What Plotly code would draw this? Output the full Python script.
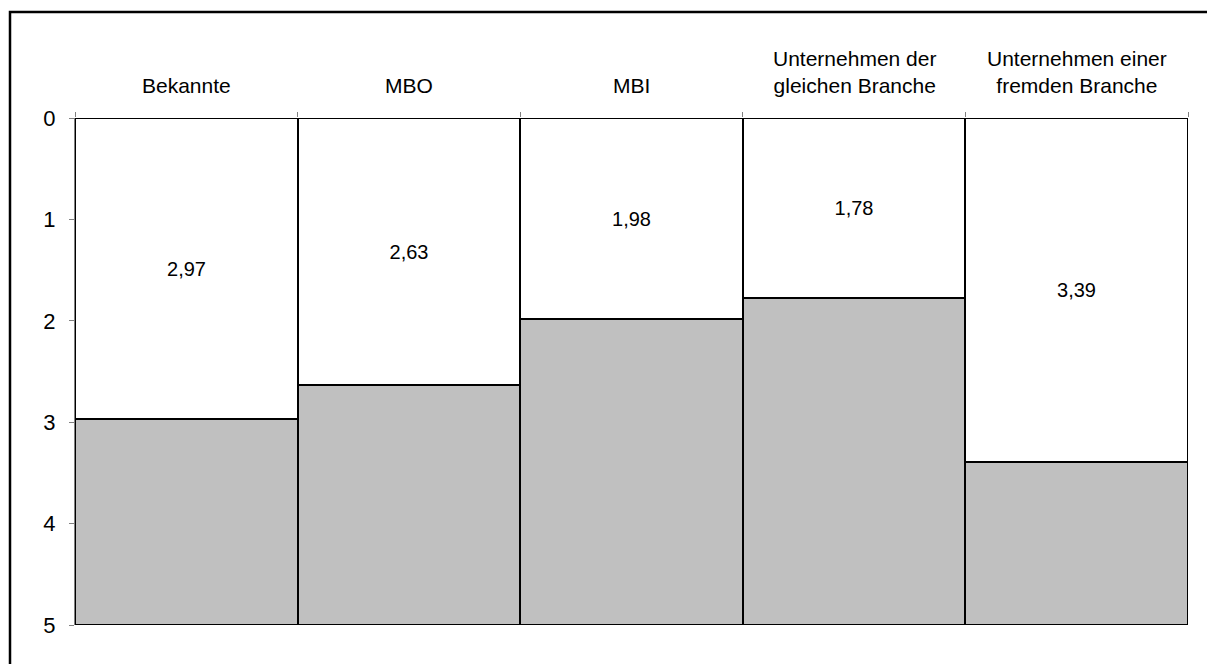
import plotly.graph_objects as go

categories = ["Bekannte", "MBO", "MBI", "Unternehmen der<br>gleichen Branche", "Unternehmen einer<br>fremden Branche"]
values = [2.97, 2.63, 1.98, 1.78, 3.39]
y_max = 5
y_ticks = [0, 1, 2, 3, 4, 5]

xs = list(range(len(categories)))
labels = [f"{v:.2f}".replace(".", ",") for v in values]

ML, MR, MT, MB = 67, 35, 110, 47
PW = 1215 - ML - MR
PH = 664 - MT - MB

fig = go.Figure()
fig.add_trace(go.Bar(
    x=xs, y=values, base=[0] * len(values), width=1,
    marker=dict(color="white", line=dict(color="black", width=2)),
    text=labels, textposition="inside", insidetextanchor="middle", textangle=0,
    textfont=dict(family="Liberation Sans, Arial", size=20, color="black"),
    showlegend=False, hoverinfo="skip",
))
fig.add_trace(go.Bar(
    x=xs, y=[y_max - v for v in values], base=values, width=1,
    marker=dict(color="#C0C0C0", line=dict(color="black", width=2)),
    showlegend=False, hoverinfo="skip",
))

for i, c in enumerate(categories):
    fig.add_annotation(x=i, y=0, xref="x", yref="y", text=c, showarrow=False,
                       yanchor="bottom", yshift=19,
                       font=dict(family="Liberation Sans, Arial", size=21, color="black"))

# outer frame
fig.add_shape(type="rect", xref="paper", yref="paper",
              x0=(2 - ML) / PW, x1=1.2, y0=-0.3, y1=1 + (MT - 4) / PH,
              line=dict(color="black", width=2.5), fillcolor="rgba(0,0,0,0)", layer="below")

fig.update_layout(
    width=1215, height=664,
    margin=dict(l=ML, r=MR, t=MT, b=MB),
    paper_bgcolor="white", plot_bgcolor="white",
    barmode="overlay", bargap=0,
    font=dict(family="Liberation Sans, Arial", color="black"),
    xaxis=dict(range=[-0.5, len(categories) - 0.5], side="top",
               tickvals=[i - 0.5 for i in range(len(categories) + 1)], ticktext=[""] * (len(categories) + 1),
               ticks="outside", ticklen=5, tickcolor="#808080", tickwidth=1,
               showgrid=False, zeroline=False, showline=False),
    yaxis=dict(range=[y_max, 0], tickvals=y_ticks, ticktext=[str(t) for t in y_ticks],
               ticks="outside", ticklen=5, tickcolor="#808080", tickwidth=1,
               showline=True, linecolor="#808080", linewidth=1,
               showgrid=False, zeroline=False, ticklabelstandoff=9,
               tickfont=dict(family="Liberation Sans, Arial", size=22, color="black")),
)

fig.write_html("out.html")
